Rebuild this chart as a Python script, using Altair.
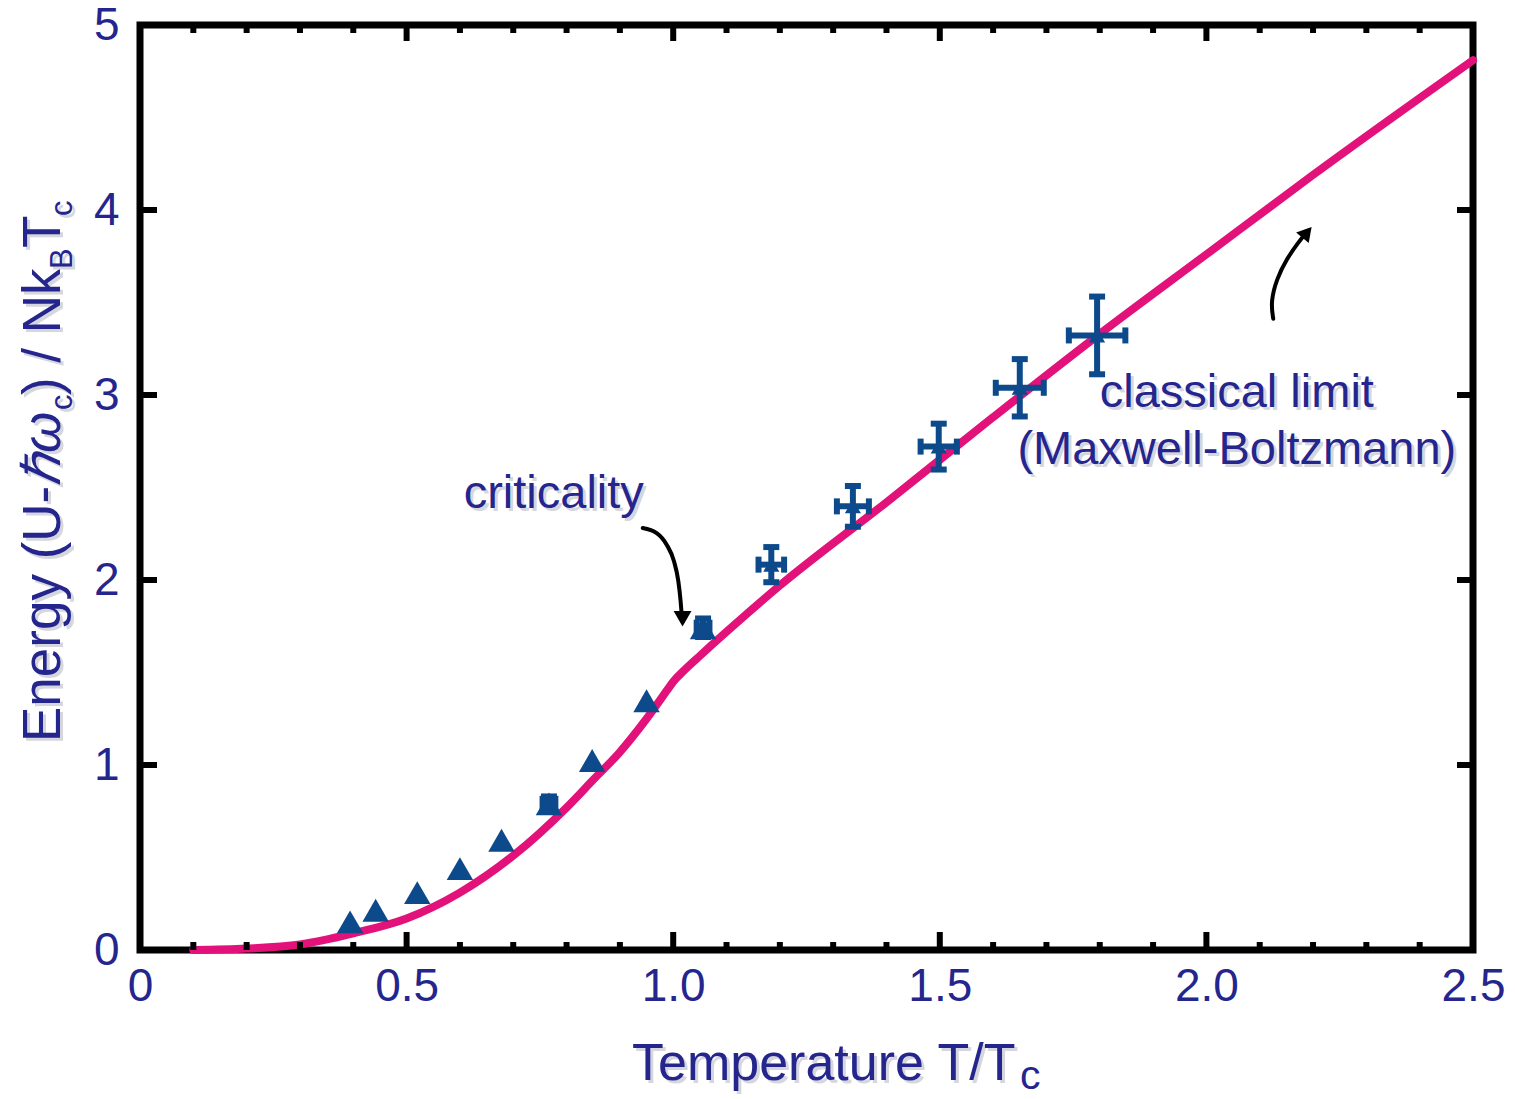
import altair as alt
import pandas as pd

# ---------------- data ----------------
curve_T = [0.10, 0.20, 0.30, 0.40, 0.50, 0.60, 0.70, 0.80, 0.85, 0.90, 0.95, 0.99, 1.00,
           1.02, 1.05, 1.10, 1.20, 1.40, 1.60, 1.80, 2.00, 2.20, 2.50]
curve_E = [0.0, 0.008, 0.03, 0.09, 0.17, 0.31, 0.51, 0.77, 0.92, 1.07, 1.25, 1.41, 1.45,
           1.51, 1.59, 1.72, 1.97, 2.42, 2.88, 3.33, 3.76, 4.19, 4.81]

tri_T = [0.394, 0.442, 0.520, 0.600, 0.678, 0.767, 0.848, 0.950, 1.056]
tri_E = [0.152, 0.215, 0.310, 0.440, 0.593, 0.790, 1.024, 1.347, 1.742]

err_T = [0.767, 1.056, 1.184, 1.337, 1.498, 1.650, 1.795]
err_E = [0.790, 1.742, 2.083, 2.398, 2.721, 3.039, 3.322]
err_dT = [0.012, 0.012, 0.024, 0.030, 0.034, 0.045, 0.053]
err_dE = [0.040, 0.050, 0.095, 0.110, 0.124, 0.155, 0.210]

cross_T = [1.184, 1.337, 1.498, 1.650, 1.795]
cross_E = [2.083, 2.398, 2.721, 3.039, 3.322]

x_major = [0, 0.5, 1.0, 1.5, 2.0, 2.5]
x_minor = [0.1, 0.2, 0.3, 0.4, 0.6, 0.7, 0.8, 0.9, 1.1, 1.2, 1.3, 1.4,
           1.6, 1.7, 1.8, 1.9, 2.1, 2.2, 2.3, 2.4]
y_major = [0, 1, 2, 3, 4, 5]

arrow1_T = [0.9428, 0.9690, 0.9878, 1.0015, 1.0096, 1.0139, 1.0159]
arrow1_E = [2.281, 2.254, 2.191, 2.101, 1.994, 1.886, 1.814]
arrow1_head_T = [1.0175]
arrow1_head_E = [1.790]

arrow2_T = [2.1254, 2.1205, 2.1318, 2.1505, 2.1723, 2.1867]
arrow2_E = [3.412, 3.502, 3.628, 3.735, 3.825, 3.874]
arrow2_head_T = [2.1887]
arrow2_head_E = [3.879]

ann_text = ["criticality", "classical limit", "(Maxwell-Boltzmann)"]
ann_T = [0.776, 2.057, 2.057]
ann_E = [2.388, 2.936, 2.625]

# ---------------- style ----------------
W, H = 1333, 925
NAVY = "#25258E"
BLUE = "#0D4A8B"
PINK = "#E3127A"
SHADOW = "#D6D6DE"
FONT = "Liberation Sans"

xs = alt.Scale(domain=[0, 2.5], nice=False, zero=False)
ys = alt.Scale(domain=[0, 5], nice=False, zero=False)

x_axis = alt.Axis(
    values=x_major,
    labelExpr="datum.value == 0 ? '0' : format(datum.value, '.1f')",
    labelPadding=14, labelFlush=False, title=None)
y_axis = alt.Axis(values=y_major, format="d", labelPadding=21, labelFlush=False, title=None)


def X(f):
    return alt.X(f, type="quantitative", scale=xs, axis=x_axis)


def Y(f):
    return alt.Y(f, type="quantitative", scale=ys, axis=y_axis)


curve_df = pd.DataFrame({"T": curve_T, "E": curve_E, "i": range(len(curve_T))})
tri_df = pd.DataFrame({"T": tri_T, "E": tri_E})
err_df = pd.DataFrame({"T": err_T, "E": err_E, "dT": err_dT, "dE": err_dE})
err_df["lo"] = err_df["E"] - err_df["dE"]
err_df["hi"] = err_df["E"] + err_df["dE"]
err_df["xlo"] = err_df["T"] - err_df["dT"]
err_df["xhi"] = err_df["T"] + err_df["dT"]
cross_df = pd.DataFrame({"T": cross_T, "E": cross_E})
xmaj_df = pd.DataFrame({"t": x_major})
xmin_df = pd.DataFrame({"t": x_minor})
ymaj_df = pd.DataFrame({"t": y_major})
a1_df = pd.DataFrame({"T": arrow1_T, "E": arrow1_E, "i": range(len(arrow1_T))})
a2_df = pd.DataFrame({"T": arrow2_T, "E": arrow2_E, "i": range(len(arrow2_T))})
h1_df = pd.DataFrame({"T": arrow1_head_T, "E": arrow1_head_E})
h2_df = pd.DataFrame({"T": arrow2_head_T, "E": arrow2_head_E})
ann_df = pd.DataFrame({"s": ann_text, "T": ann_T, "E": ann_E})

# ---------------- layers ----------------
curve = alt.Chart(curve_df).mark_line(
    color=PINK, strokeWidth=8, interpolate="monotone", strokeCap="round"
).encode(x=X("T"), y=Y("E"), order="i:Q")

tris = alt.Chart(tri_df).mark_point(
    shape="triangle-up", filled=True, opacity=1, color=BLUE, size=700
).encode(x=X("T"), y=Y("E"))

ebar_v = alt.Chart(err_df).mark_rule(color=BLUE, strokeWidth=6, opacity=1).encode(
    x=X("T"), y=Y("lo"), y2="hi")
ebar_h = alt.Chart(err_df).mark_rule(color=BLUE, strokeWidth=6, opacity=1).encode(
    y=Y("E"), x=X("xlo"), x2="xhi")
capkw = dict(color=BLUE, size=16, thickness=6, opacity=1)
cap_hi = alt.Chart(err_df).mark_tick(orient="horizontal", **capkw).encode(x=X("T"), y=Y("hi"))
cap_lo = alt.Chart(err_df).mark_tick(orient="horizontal", **capkw).encode(x=X("T"), y=Y("lo"))
cap_l = alt.Chart(err_df).mark_tick(orient="vertical", **capkw).encode(x=X("xlo"), y=Y("E"))
cap_r = alt.Chart(err_df).mark_tick(orient="vertical", **capkw).encode(x=X("xhi"), y=Y("E"))
cross = alt.Chart(cross_df).mark_point(
    shape="triangle-up", filled=True, opacity=1, color=BLUE, size=260
).encode(x=X("T"), y=Y("E"))

# inward ticks
tk = dict(color="black", strokeWidth=6)
t_bot_maj = alt.Chart(xmaj_df).mark_rule(**tk).encode(x=X("t"), y=alt.value(H), y2=alt.value(H - 18))
t_bot_min = alt.Chart(xmin_df).mark_rule(**tk).encode(x=X("t"), y=alt.value(H), y2=alt.value(H - 8))
t_top_maj = alt.Chart(xmaj_df).mark_rule(**tk).encode(x=X("t"), y=alt.value(0), y2=alt.value(16))
t_top_min = alt.Chart(xmin_df).mark_rule(**tk).encode(x=X("t"), y=alt.value(0), y2=alt.value(8))
t_left = alt.Chart(ymaj_df).mark_rule(**tk).encode(y=Y("t"), x=alt.value(0), x2=alt.value(17))
t_right = alt.Chart(ymaj_df).mark_rule(**tk).encode(y=Y("t"), x=alt.value(W), x2=alt.value(W - 16))

# arrows
a1 = alt.Chart(a1_df).mark_line(color="black", strokeWidth=4, interpolate="monotone", strokeCap="round").encode(
    x=X("T"), y=Y("E"), order="i:Q")
a2 = alt.Chart(a2_df).mark_line(color="black", strokeWidth=4, interpolate="basis", strokeCap="round").encode(
    x=X("T"), y=Y("E"), order="i:Q")
h1 = alt.Chart(h1_df).mark_point(shape="triangle-down", filled=True, opacity=1, color="black", size=320).encode(
    x=X("T"), y=Y("E"))
h2 = alt.Chart(h2_df).mark_point(shape="triangle-up", filled=True, opacity=1, color="black", size=270,
                                 angle=40).encode(x=X("T"), y=Y("E"))

# annotations
ann_sh = alt.Chart(ann_df).mark_text(font=FONT, fontSize=47, color=SHADOW, align="center",
                                     baseline="alphabetic", dx=3, dy=3).encode(
    x=X("T"), y=Y("E"), text="s:N")
ann = alt.Chart(ann_df).mark_text(font=FONT, fontSize=47, color=NAVY, align="center",
                                  baseline="alphabetic").encode(
    x=X("T"), y=Y("E"), text="s:N")


def ptext(s, px, py, size, angle=0, italic=False, shadow=True):
    d = pd.DataFrame({"s": [s]})
    kw = dict(font=FONT, fontSize=size, align="left", baseline="alphabetic")
    if angle:
        kw["angle"] = angle
    if italic:
        kw["fontStyle"] = "italic"
    layers = []
    if shadow:
        layers.append(alt.Chart(d).mark_text(color=SHADOW, **kw).encode(
            x=alt.value(px + 3), y=alt.value(py + 3), text="s:N"))
    layers.append(alt.Chart(d).mark_text(color=NAVY, **kw).encode(
        x=alt.value(px), y=alt.value(py), text="s:N"))
    return layers


titles = []
# x title
titles += ptext("Temperature T/T", 492, 1055, 52)
titles += ptext("c", 880, 1064, 41, shadow=False)
# y title (rotated, reading bottom to top)
titles += ptext("Energy (U-", -80, 717, 53, angle=270)
titles += ptext("\u210f\u03c9", -80, 461, 53, angle=270, italic=True)
titles += ptext("c", -68, 385, 31, angle=270)
titles += ptext(") / Nk", -80, 370, 53, angle=270)
titles += ptext("B", -68, 244, 31, angle=270)
titles += ptext("T", -80, 223, 53, angle=270)
titles += ptext("c", -68, 191, 31, angle=270)

chart = alt.layer(
    curve, t_bot_maj, t_bot_min, t_top_maj, t_top_min, t_left, t_right,
    ebar_v, ebar_h, cap_hi, cap_lo, cap_l, cap_r, tris, cross,
    a1, a2, h1, h2, ann_sh, ann, *titles
).properties(
    width=W, height=H,
    autosize=alt.AutoSizeParams(type="none"),
    padding={"left": 132, "top": 17, "right": 34, "bottom": 150},
).configure_view(
    stroke="black", strokeWidth=7
).configure_axis(
    domain=False, ticks=False, grid=False, title=None,
    labelFont=FONT, labelFontSize=46, labelColor=NAVY,
)

chart.save("out.html", embed_options={"renderer": "svg", "actions": False})
